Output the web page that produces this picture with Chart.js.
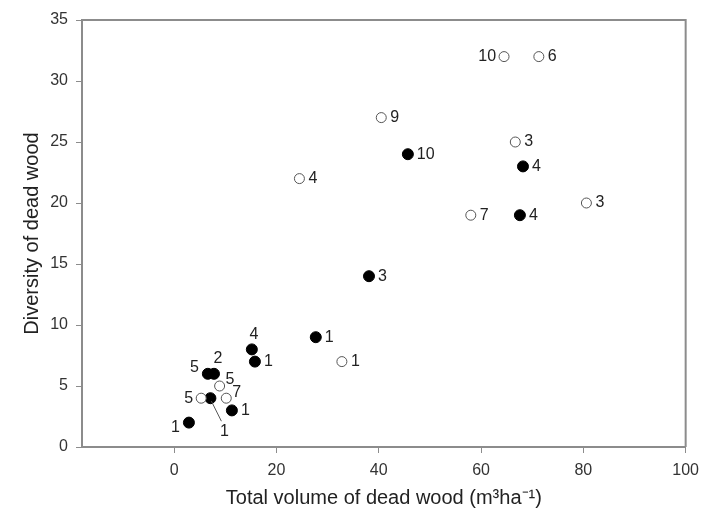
<!DOCTYPE html>
<html>
<head>
<meta charset="utf-8">
<script src="https://cdn.jsdelivr.net/npm/chart.js@4.4.0/dist/chart.umd.min.js"></script>
<style>
  html, body { margin: 0; padding: 0; background: #fff; }
  #wrap { width: 707px; height: 514px; }
</style>
</head>
<body>
<div id="wrap"><canvas id="deadWood"></canvas></div>
<script>
// open circles
var openX = [64.5, 71.3, 40.5, 66.7, 24.5, 80.6, 58, 32.8, 8.9, 5.3, 10.2];
var openY = [32, 32, 27, 25, 22, 20, 19, 7, 5, 4, 4];
var openLabels = ['10', '6', '9', '3', '4', '3', '7', '1', '5', '5', '7'];

// filled circles
var filledX = [45.7, 68.2, 67.6, 38.1, 27.7, 15.2, 15.8, 6.6, 7.8, 7.1, 11.3, 2.9];
var filledY = [24, 23, 19, 14, 9, 8, 7, 6, 6, 4, 3, 2];
var filledLabels = ['10', '4', '4', '3', '1', '4', '1', '5', '2', '1', '1', '1'];

var xTicks = [0, 20, 40, 60, 80, 100];
var yTicks = [0, 5, 10, 15, 20, 25, 30, 35];

// where each label sits relative to its point
var openAnchor = ['l', 'r', 'r', 'r', 'r', 'r', 'r', 'r', 'rt', 'l', 'rt'];
var filledAnchor = ['r', 'r', 'r', 'r', 'r', 't', 'r', 'lt', 'tr', 'lead', 'r', 'lb'];

var anchors = {
    r:    { dx: 9,   dy: 0,   align: 'left' },
    l:    { dx: -8,  dy: 0,   align: 'right' },
    t:    { dx: 2,   dy: -15, align: 'center' },
    lt:   { dx: -9,  dy: -6,  align: 'right' },
    tr:   { dx: 4,   dy: -15, align: 'center' },
    rt:   { dx: 6,   dy: -6,  align: 'left' },
    lb:   { dx: -9,  dy: 5,   align: 'right' },
    lead: { dx: 14,  dy: 33,  align: 'center' }
};

function pts(xs, ys) {
    return xs.map(function (x, i) { return { x: x, y: ys[i] }; });
}

var pointLabels = {
    id: 'pointLabels',
    afterDatasetsDraw: function (chart) {
        var ctx = chart.ctx;
        var sets = [[openLabels, openAnchor], [filledLabels, filledAnchor]];
        ctx.save();
        ctx.font = '16px "Liberation Sans", Arial, sans-serif';
        ctx.fillStyle = '#222';
        ctx.textBaseline = 'middle';
        sets.forEach(function (s, i) {
            var meta = chart.getDatasetMeta(i);
            meta.data.forEach(function (p, j) {
                var a = anchors[s[1][j]];
                ctx.textAlign = a.align;
                ctx.fillText(s[0][j], p.x + a.dx, p.y + a.dy);
                if (s[1][j] === 'lead') {
                    ctx.strokeStyle = '#555';
                    ctx.lineWidth = 1;
                    ctx.beginPath();
                    ctx.moveTo(p.x + 1, p.y + 3);
                    ctx.lineTo(p.x + 11, p.y + 23);
                    ctx.stroke();
                }
            });
        });
        ctx.restore();
    }
};

var frame = {
    id: 'frame',
    beforeDatasetsDraw: function (chart) {
        var a = chart.chartArea, ctx = chart.ctx;
        ctx.save();
        ctx.strokeStyle = '#8c8c8c';
        ctx.lineWidth = 2;
        ctx.beginPath();
        ctx.moveTo(a.left, a.top);
        ctx.lineTo(a.right, a.top);
        ctx.lineTo(a.right, a.bottom);
        ctx.stroke();
        ctx.restore();
    }
};

var ctx = document.getElementById('deadWood').getContext('2d');
var deadWood = new Chart(ctx, {
    type: 'scatter',
    data: {
        datasets: [{
            label: 'open',
            data: pts(openX, openY),
            backgroundColor: '#fff',
            borderColor: '#555',
            borderWidth: 1,
            pointRadius: 5
        }, {
            label: 'filled',
            data: pts(filledX, filledY),
            backgroundColor: '#000',
            borderColor: '#000',
            borderWidth: 1,
            pointRadius: 5.5
        }]
    },
    options: {
        responsive: true,
        maintainAspectRatio: false,
        animation: false,
        layout: { padding: { left: 16, top: 20, right: 17, bottom: 0 } },
        plugins: {
            legend: { display: false },
            tooltip: { enabled: false }
        },
        scales: {
            x: {
                min: -18,
                max: 100,
                afterBuildTicks: function (axis) {
                    axis.ticks = xTicks.map(function (v) { return { value: v }; });
                },
                afterFit: function (axis) { axis.height = 67; },
                grid: { drawOnChartArea: false, drawTicks: true, tickLength: 6, color: '#8c8c8c' },
                border: { display: true, color: '#8c8c8c', width: 2 },
                ticks: {
                    color: '#333',
                    padding: 8,
                    font: { family: '"Liberation Sans", Arial, sans-serif', size: 16 }
                },
                title: {
                    display: true,
                    text: 'Total volume of dead wood (m³ha⁻¹)',
                    color: '#222',
                    padding: { top: 2, bottom: 4 },
                    font: { family: '"Liberation Sans", Arial, sans-serif', size: 20 }
                }
            },
            y: {
                min: 0,
                max: 35,
                afterBuildTicks: function (axis) {
                    axis.ticks = yTicks.map(function (v) { return { value: v }; });
                },
                afterFit: function (axis) { axis.width = 66; },
                grid: { drawOnChartArea: false, drawTicks: true, tickLength: 6, color: '#8c8c8c' },
                border: { display: true, color: '#8c8c8c', width: 2 },
                ticks: {
                    color: '#333',
                    padding: 8,
                    font: { family: '"Liberation Sans", Arial, sans-serif', size: 16 }
                },
                title: {
                    display: true,
                    text: 'Diversity of dead wood',
                    color: '#222',
                    padding: { top: 4, bottom: 4 },
                    font: { family: '"Liberation Sans", Arial, sans-serif', size: 20 }
                }
            }
        }
    },
    plugins: [frame, pointLabels]
});
</script>
</body>
</html>
